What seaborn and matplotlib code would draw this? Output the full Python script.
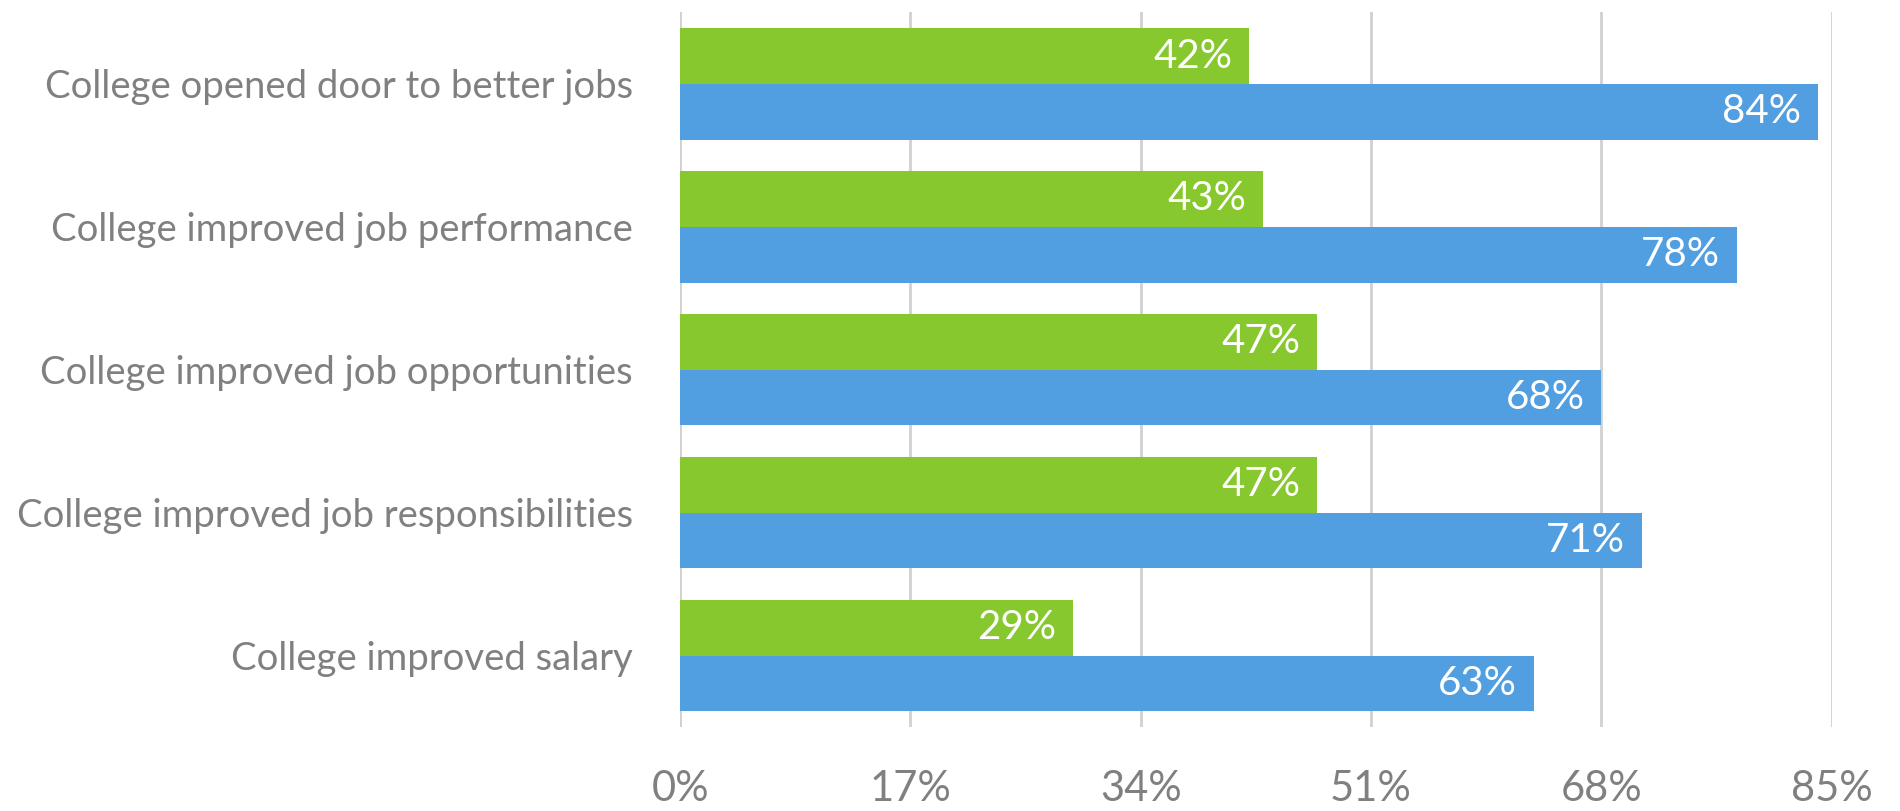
import pandas as pd
import matplotlib
matplotlib.use("Agg")
import matplotlib.pyplot as plt
import seaborn as sns

# data
categories = [
    "College opened door to better jobs",
    "College improved job performance",
    "College improved job opportunities",
    "College improved job responsibilities",
    "College improved salary",
]
series_names = ["Group A", "Group B"]
green_values = [42, 43, 47, 47, 29]
blue_values = [84, 78, 68, 71, 63]
x_ticks = [0, 17, 34, 51, 68, 85]
colors = ["#86C82D", "#519FE0"]

df = pd.DataFrame({
    "category": categories * 2,
    "series": [series_names[0]] * len(categories) + [series_names[1]] * len(categories),
    "value": green_values + blue_values,
})

sns.set_theme(style="white")
plt.rcParams["font.family"] = ["Lato", "DejaVu Sans"]

fig = plt.figure(figsize=(19, 8.11), dpi=100)
ax = fig.add_axes([0.358, 0.1036, 0.606, 0.881])

sns.barplot(data=df, x="value", y="category", hue="series", orient="h",
            palette=colors, hue_order=series_names, order=categories,
            width=0.78, gap=0, legend=False, saturation=1, linewidth=0, ax=ax)

# value labels inside the bar ends
for container in ax.containers:
    for patch in container:
        w = patch.get_width()
        yc = patch.get_y() + patch.get_height() / 2
        ax.annotate(f"{w:.0f}%", (w, yc), xytext=(-12, 0), textcoords="offset points",
                    ha="right", va="center", color="white", fontsize=29)

ax.set_xlim(0, 85)
ax.set_ylim(4.5, -0.5)
ax.set_xticks(x_ticks)
ax.set_xticklabels([f"{t}%" for t in x_ticks])
ax.xaxis.grid(True, color="#D0D0D0", linewidth=2)
ax.set_axisbelow(True)
for s in ["top", "right", "bottom", "left"]:
    ax.spines[s].set_visible(False)
ax.tick_params(axis="x", length=0, pad=31, labelsize=30, labelcolor="#808080")
ax.tick_params(axis="y", length=0, pad=34, labelsize=27.5, labelcolor="#808080")
ax.set_xlabel("")
ax.set_ylabel("")

fig.savefig("out.png", dpi=100)
